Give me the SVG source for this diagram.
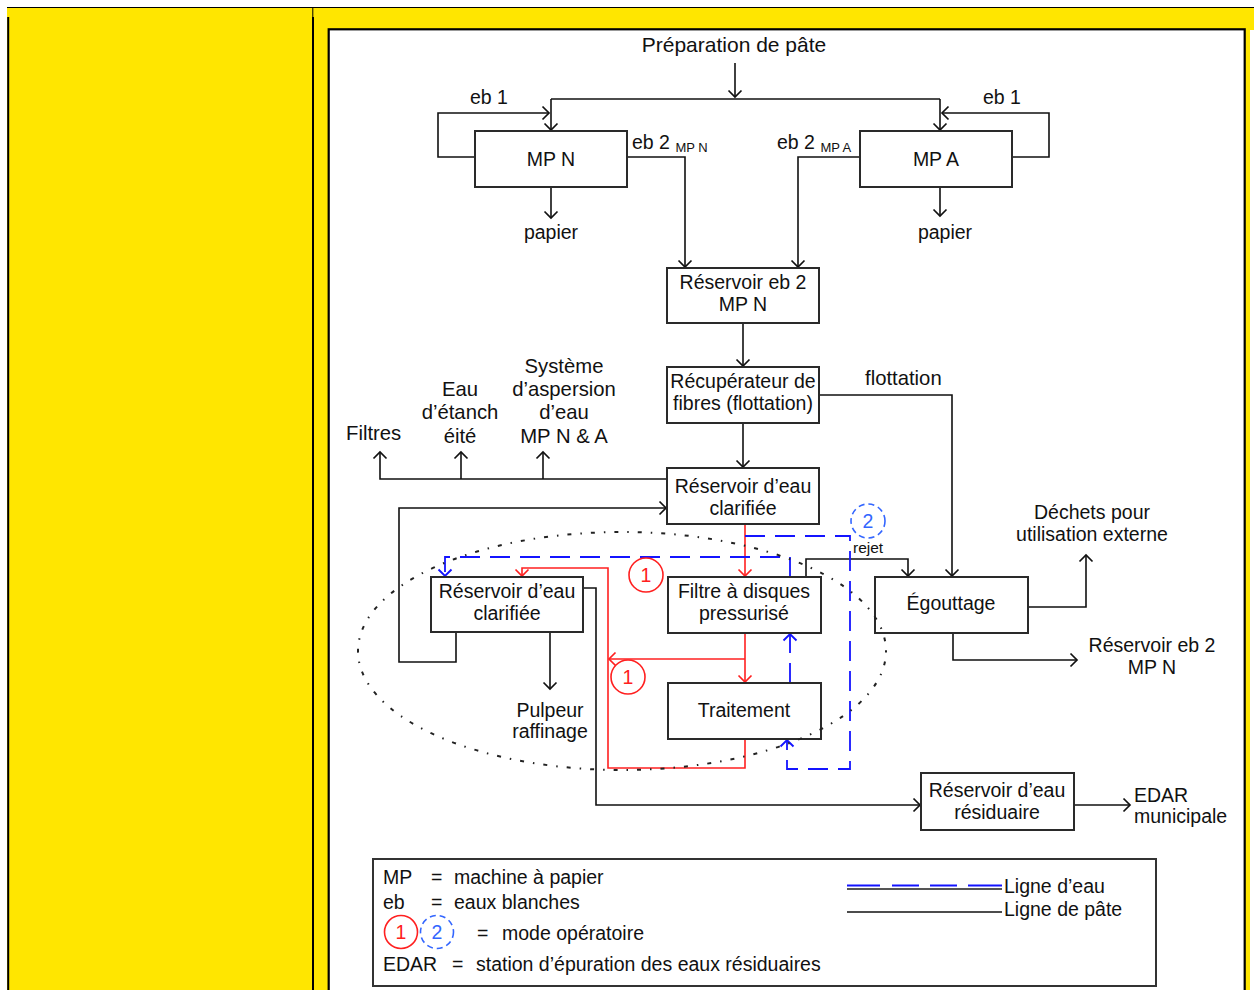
<svg xmlns="http://www.w3.org/2000/svg" width="1254" height="990" viewBox="0 0 1254 990">
<style>
text{font-family:"Liberation Sans",Arial,sans-serif;font-size:19.5px;fill:#111}
.c{text-anchor:middle}
.box{fill:#fff;stroke:#2a2a2a;stroke-width:2}
.k{fill:none;stroke:#111;stroke-width:1.6;marker-end:url(#ak)}
.kn{fill:none;stroke:#111;stroke-width:1.6}
.r{fill:none;stroke:#ff2020;stroke-width:1.6;marker-end:url(#ar)}
.rn{fill:none;stroke:#ff2020;stroke-width:1.6}
.b{fill:none;stroke:#1414ff;stroke-width:1.8;stroke-dasharray:20 10;marker-end:url(#ab)}
.red{fill:#ff2020}
.blu{fill:#3366ff}
</style>
<defs>
<marker id="ak" markerUnits="userSpaceOnUse" viewBox="0 0 16 16" markerWidth="16" markerHeight="16" refX="8" refY="8" orient="auto"><path d="M1.5,1.5 L8,8 L1.5,14.5" fill="none" stroke="#111" stroke-width="1.7"/></marker>
<marker id="ar" markerUnits="userSpaceOnUse" viewBox="0 0 16 16" markerWidth="16" markerHeight="16" refX="8" refY="8" orient="auto"><path d="M1.5,1.5 L8,8 L1.5,14.5" fill="none" stroke="#ff2020" stroke-width="1.7"/></marker>
<marker id="ab" markerUnits="userSpaceOnUse" viewBox="0 0 16 16" markerWidth="16" markerHeight="16" refX="8" refY="8" orient="auto"><path d="M1.5,1.5 L8,8 L1.5,14.5" fill="none" stroke="#1414ff" stroke-width="1.9"/></marker>
</defs>

<g id="frame">
<rect x="0" y="0" width="1254" height="990" fill="#fff"/>
<rect x="7" y="7" width="1247" height="983" fill="#ffe600"/>
<rect x="1250" y="30" width="4" height="960" fill="#fff"/>
<line x1="7" y1="7.5" x2="1254" y2="7.5" stroke="#000" stroke-width="1"/>
<line x1="8.2" y1="17" x2="8.2" y2="990" stroke="#000" stroke-width="2"/>
<line x1="312.8" y1="7" x2="312.8" y2="17" stroke="#000" stroke-width="1"/>
<line x1="313" y1="17" x2="313" y2="990" stroke="#000" stroke-width="2"/>
<rect x="328.7" y="29.3" width="916" height="975" fill="#fff" stroke="#000" stroke-width="2.2"/>
</g>

<g id="labels">
<text class="c" x="734" y="52" style="font-size:21px">Préparation de pâte</text>
<text x="470" y="104">eb 1</text>
<text x="983" y="104">eb 1</text>
<text x="632" y="149">eb 2 <tspan style="font-size:13px" dy="3">MP N</tspan></text>
<text x="777" y="149">eb 2 <tspan style="font-size:13px" dy="3">MP A</tspan></text>
<text class="c" x="551" y="239">papier</text>
<text class="c" x="945" y="239">papier</text>
<text x="865" y="385" style="font-size:20.3px">flottation</text>
<text class="c" x="564" y="373" style="font-size:20.3px">Système</text>
<text class="c" x="564" y="396" style="font-size:20.3px">d’aspersion</text>
<text class="c" x="564" y="419" style="font-size:20.3px">d’eau</text>
<text class="c" x="564" y="443" style="font-size:20.3px">MP N &amp; A</text>
<text class="c" x="460" y="396" style="font-size:20.3px">Eau</text>
<text class="c" x="460" y="419" style="font-size:20.3px">d’étanch</text>
<text class="c" x="460" y="443" style="font-size:20.3px">éité</text>
<text x="346" y="440" style="font-size:20.3px">Filtres</text>
<text class="c" x="1092" y="519">Déchets pour</text>
<text class="c" x="1092" y="541">utilisation externe</text>
<text class="c" x="1152" y="652">Réservoir eb 2</text>
<text class="c" x="1152" y="674">MP N</text>
<text class="c" x="550" y="717">Pulpeur</text>
<text class="c" x="550" y="738">raffinage</text>
<text x="1134" y="802">EDAR</text>
<text x="1134" y="823">municipale</text>
<text x="853" y="553" style="font-size:15.5px">rejet</text>
</g>

<g id="connectors">
<path class="k" d="M735,63 V97"/>
<path class="kn" d="M551,99 H940"/>
<path class="k" d="M551,99 V130"/>
<path class="k" d="M940,99 V130"/>
<path class="k" d="M475,157 H438 V113 H549"/>
<path class="k" d="M1012,157 H1049 V113 H942"/>
<path class="k" d="M627,157 H685 V267"/>
<path class="k" d="M860,157 H798 V267"/>
<path class="k" d="M551,187 V218"/>
<path class="k" d="M940,187 V216"/>
<path class="k" d="M743,323 V366"/>
<path class="k" d="M819,395 H952 V576"/>
<path class="k" d="M743,423 V467"/>
<path class="k" d="M667,479 H380 V452"/>
<path class="k" d="M461,479 V452"/>
<path class="k" d="M543,479 V452"/>
<path class="k" d="M456,632 V662 H399 V508 H666"/>
<path class="k" d="M550,632 V689"/>
<path class="k" d="M583,588 H596 V805 H920"/>
<path class="k" d="M806,577 V559 H908 V576"/>
<path class="k" d="M1028,607 H1086 V555"/>
<path class="k" d="M953,633 V660 H1077"/>
<path class="k" d="M1074,805 H1130"/>
<path class="r" d="M745,524 V576"/>
<path class="r" d="M745,633 V682"/>
<path class="r" d="M745,659 H609"/>
<path class="r" d="M745,739 V768 H608 V568 H522 V576"/>
<path class="b" d="M790,577 V557 H445 V576"/>
<path class="b" d="M745,536 H850 V769 H787 V740"/>
<path class="b" d="M790,683 V634"/>
</g>

<g id="n-mpn"><rect class="box" x="475" y="131" width="152" height="56"/><text class="c" x="551" y="166">MP N</text></g>
<g id="n-mpa"><rect class="box" x="860" y="131" width="152" height="56"/><text class="c" x="936" y="166">MP A</text></g>
<g id="n-reseb2"><rect class="box" x="667" y="268" width="152" height="55"/><text class="c" x="743" y="289">Réservoir eb 2</text><text class="c" x="743" y="311">MP N</text></g>
<g id="n-recup"><rect class="box" x="667" y="367" width="152" height="56"/><text class="c" x="743" y="388">Récupérateur de</text><text class="c" x="743" y="410">fibres (flottation)</text></g>
<g id="n-clar1"><rect class="box" x="667" y="468" width="152" height="56"/><text class="c" x="743" y="493">Réservoir d’eau</text><text class="c" x="743" y="515">clarifiée</text></g>
<g id="n-clar2"><rect class="box" x="431" y="577" width="152" height="55"/><text class="c" x="507" y="598">Réservoir d’eau</text><text class="c" x="507" y="620">clarifiée</text></g>
<g id="n-filtre"><rect class="box" x="668" y="577" width="153" height="56"/><text class="c" x="744" y="598">Filtre à disques</text><text class="c" x="744" y="620">pressurisé</text></g>
<g id="n-trait"><rect class="box" x="668" y="683" width="153" height="56"/><text class="c" x="744" y="717">Traitement</text></g>
<g id="n-egout"><rect class="box" x="875" y="577" width="153" height="56"/><text class="c" x="951" y="610">Égouttage</text></g>
<g id="n-resid"><rect class="box" x="921" y="773" width="153" height="57"/><text class="c" x="997" y="797">Réservoir d’eau</text><text class="c" x="997" y="819">résiduaire</text></g>

<g id="zone">
<ellipse cx="622" cy="651" rx="264" ry="119" fill="none" stroke="#222" stroke-width="2" stroke-dasharray="1.5 9 4 9"/>
</g>

<g id="modes">
<circle cx="646" cy="575" r="17" fill="#fff" stroke="#ff2020" stroke-width="1.6"/><text class="c red" x="646" y="582">1</text>
<circle cx="628" cy="677" r="17" fill="#fff" stroke="#ff2020" stroke-width="1.6"/><text class="c red" x="628" y="684">1</text>
<circle cx="868" cy="521" r="17" fill="#fff" stroke="#3366ff" stroke-width="1.6" stroke-dasharray="6 4"/><text class="c blu" x="868" y="528">2</text>
</g>

<g id="legend">
<rect x="373" y="859" width="783" height="127" fill="#fff" stroke="#333" stroke-width="2"/>
<text x="383" y="884">MP</text><text x="431" y="884">=</text><text x="454" y="884">machine à papier</text>
<text x="383" y="909">eb</text><text x="431" y="909">=</text><text x="454" y="909">eaux blanches</text>
<circle cx="401" cy="932" r="16.5" fill="none" stroke="#ff2020" stroke-width="1.6"/><text class="c red" x="401" y="939">1</text>
<circle cx="437" cy="932" r="16.5" fill="none" stroke="#3366ff" stroke-width="1.6" stroke-dasharray="6 4"/><text class="c blu" x="437" y="939">2</text>
<text x="477" y="940">=</text><text x="502" y="940">mode opératoire</text>
<text x="383" y="971">EDAR</text><text x="452" y="971">=</text><text x="476" y="971">station d’épuration des eaux résiduaires</text>
<line x1="847" y1="889" x2="1002" y2="889" stroke="#555" stroke-width="1.8"/>
<line x1="847" y1="885.5" x2="1002" y2="885.5" stroke="#1414ff" stroke-width="1.8" stroke-dasharray="33 12 27 11 27 11 34"/>
<line x1="847" y1="912" x2="1002" y2="912" stroke="#111" stroke-width="1.6"/>
<text x="1004" y="893">Ligne d’eau</text>
<text x="1004" y="916">Ligne de pâte</text>
</g>
</svg>
